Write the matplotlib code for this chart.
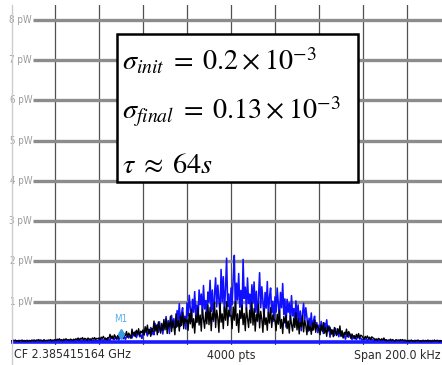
import numpy as np
import matplotlib
matplotlib.use("Agg")
import matplotlib.pyplot as plt
from matplotlib.patches import Rectangle
from matplotlib.lines import Line2D
from matplotlib import font_manager

# trace values in pW, one every 0.5 kHz from -100 kHz to +100 kHz (span 200 kHz)
black = [
    0.03, 0.02, 0.04, 0.03, 0.05, 0.02, 0.03, 0.01, 0.04, 0.03, 0.05, 0.02, 0.04, 0.01, 0.04, 0.03, 0.02, 0.04, 0.02, 0.05,
    0.03, 0.05, 0.02, 0.05, 0.04, 0.06, 0.03, 0.05, 0.04, 0.02, 0.06, 0.03, 0.04, 0.03, 0.05, 0.04, 0.06, 0.03, 0.05, 0.04,
    0.06, 0.04, 0.07, 0.05, 0.08, 0.04, 0.06, 0.03, 0.07, 0.05, 0.08, 0.05, 0.06, 0.04, 0.07, 0.06, 0.04, 0.07, 0.05, 0.08,
    0.06, 0.10, 0.05, 0.09, 0.07, 0.11, 0.05, 0.09, 0.08, 0.04, 0.10, 0.06, 0.08, 0.05, 0.10, 0.07, 0.11, 0.06, 0.09, 0.08,
    0.10, 0.06, 0.12, 0.09, 0.14, 0.07, 0.10, 0.05, 0.11, 0.09, 0.19, 0.10, 0.15, 0.07, 0.18, 0.13, 0.08, 0.16, 0.10, 0.20,
    0.13, 0.23, 0.10, 0.20, 0.16, 0.26, 0.12, 0.22, 0.17, 0.09, 0.32, 0.18, 0.24, 0.14, 0.29, 0.20, 0.33, 0.16, 0.27, 0.23,
    0.30, 0.17, 0.38, 0.25, 0.42, 0.20, 0.31, 0.14, 0.34, 0.26, 0.52, 0.27, 0.41, 0.18, 0.50, 0.35, 0.22, 0.46, 0.29, 0.56,
    0.30, 0.57, 0.21, 0.47, 0.38, 0.64, 0.26, 0.52, 0.40, 0.18, 0.70, 0.38, 0.53, 0.27, 0.64, 0.41, 0.73, 0.33, 0.59, 0.50,
    0.55, 0.29, 0.71, 0.45, 0.81, 0.35, 0.58, 0.22, 0.65, 0.48, 0.85, 0.42, 0.67, 0.27, 0.81, 0.56, 0.34, 0.74, 0.45, 0.92,
    0.43, 0.86, 0.28, 0.71, 0.55, 0.98, 0.36, 0.79, 0.59, 0.24, 0.96, 0.49, 0.70, 0.33, 0.87, 0.54, 1.00, 0.41, 0.79, 0.66,
    0.66, 0.33, 0.87, 0.54, 1.00, 0.41, 0.70, 0.24, 0.79, 0.58, 0.90, 0.43, 0.71, 0.28, 0.86, 0.59, 0.36, 0.79, 0.47, 0.98,
    0.42, 0.83, 0.27, 0.68, 0.53, 0.94, 0.35, 0.76, 0.57, 0.24, 0.81, 0.43, 0.60, 0.29, 0.74, 0.47, 0.85, 0.36, 0.67, 0.57,
    0.53, 0.28, 0.69, 0.44, 0.79, 0.34, 0.56, 0.21, 0.63, 0.47, 0.66, 0.33, 0.52, 0.22, 0.64, 0.44, 0.27, 0.58, 0.36, 0.72,
    0.30, 0.58, 0.20, 0.48, 0.38, 0.66, 0.25, 0.53, 0.41, 0.18, 0.52, 0.28, 0.39, 0.19, 0.47, 0.30, 0.54, 0.24, 0.43, 0.37,
    0.33, 0.18, 0.42, 0.27, 0.48, 0.22, 0.35, 0.14, 0.39, 0.29, 0.37, 0.19, 0.30, 0.13, 0.36, 0.25, 0.16, 0.33, 0.21, 0.40,
    0.15, 0.28, 0.10, 0.24, 0.19, 0.32, 0.13, 0.26, 0.20, 0.09, 0.20, 0.12, 0.16, 0.08, 0.19, 0.12, 0.21, 0.10, 0.17, 0.15,
    0.11, 0.07, 0.14, 0.09, 0.15, 0.08, 0.12, 0.06, 0.13, 0.10, 0.09, 0.05, 0.08, 0.04, 0.09, 0.07, 0.04, 0.08, 0.05, 0.10,
    0.04, 0.06, 0.03, 0.05, 0.04, 0.07, 0.03, 0.06, 0.04, 0.02, 0.06, 0.04, 0.05, 0.03, 0.06, 0.04, 0.06, 0.03, 0.05, 0.04,
    0.02, 0.04, 0.01, 0.03, 0.05, 0.02, 0.03, 0.01, 0.04, 0.03, 0.05, 0.02, 0.03, 0.01, 0.04, 0.03, 0.02, 0.04, 0.02, 0.05,
    0.02, 0.04, 0.01, 0.03, 0.02, 0.05, 0.02, 0.04, 0.03, 0.01, 0.04, 0.02, 0.03, 0.02, 0.04, 0.03, 0.05, 0.02, 0.04, 0.03,
    0.03,
]
blue = [
    0.03, 0.01, 0.04, 0.02, 0.01, 0.03, 0.02, 0.04, 0.01, 0.03, 0.00, 0.03, 0.02, 0.03, 0.01, 0.04, 0.02, 0.02, 0.01, 0.03,
    0.02, 0.04, 0.01, 0.03, 0.00, 0.02, 0.04, 0.01, 0.03, 0.02, 0.01, 0.03, 0.02, 0.04, 0.01, 0.03, 0.03, 0.01, 0.02, 0.00,
    0.03, 0.02, 0.04, 0.03, 0.02, 0.03, 0.02, 0.04, 0.02, 0.03, 0.01, 0.04, 0.03, 0.03, 0.02, 0.04, 0.02, 0.03, 0.01, 0.03,
    0.03, 0.06, 0.02, 0.05, 0.01, 0.04, 0.06, 0.03, 0.05, 0.04, 0.02, 0.05, 0.03, 0.06, 0.02, 0.04, 0.05, 0.03, 0.04, 0.02,
    0.06, 0.04, 0.07, 0.05, 0.03, 0.07, 0.05, 0.08, 0.04, 0.06, 0.04, 0.12, 0.08, 0.11, 0.06, 0.13, 0.07, 0.09, 0.05, 0.11,
    0.11, 0.17, 0.08, 0.14, 0.06, 0.13, 0.17, 0.10, 0.15, 0.12, 0.10, 0.21, 0.15, 0.26, 0.11, 0.19, 0.23, 0.13, 0.17, 0.09,
    0.28, 0.19, 0.33, 0.24, 0.15, 0.31, 0.22, 0.36, 0.18, 0.27, 0.18, 0.46, 0.33, 0.43, 0.24, 0.50, 0.29, 0.37, 0.20, 0.44,
    0.41, 0.63, 0.31, 0.53, 0.21, 0.48, 0.66, 0.36, 0.58, 0.43, 0.36, 0.78, 0.53, 0.95, 0.39, 0.71, 0.85, 0.46, 0.64, 0.32,
    0.97, 0.65, 1.16, 0.83, 0.51, 1.06, 0.74, 1.25, 0.60, 0.92, 0.51, 1.29, 0.93, 1.19, 0.66, 1.40, 0.82, 1.03, 0.56, 1.24,
    0.99, 1.53, 0.75, 1.29, 0.51, 1.17, 1.59, 0.87, 1.41, 1.05, 0.69, 1.80, 1.00, 1.62, 0.75, 1.31, 2.08, 0.88, 1.19, 0.63,
    1.34, 0.92, 1.58, 2.15, 0.74, 1.46, 1.04, 1.70, 0.86, 1.28, 0.62, 2.05, 1.08, 1.36, 0.79, 1.59, 0.96, 1.19, 0.67, 1.42,
    0.97, 1.49, 0.74, 1.26, 0.51, 1.14, 1.72, 0.85, 1.37, 1.03, 0.57, 1.23, 0.84, 1.50, 0.62, 1.12, 1.34, 0.73, 1.01, 0.51,
    1.12, 0.74, 1.34, 0.96, 0.57, 1.23, 0.85, 1.45, 0.68, 1.07, 0.37, 1.06, 0.74, 0.97, 0.51, 1.15, 0.65, 0.83, 0.42, 1.02,
    0.58, 0.92, 0.43, 0.77, 0.28, 0.70, 0.96, 0.51, 0.85, 0.62, 0.26, 0.59, 0.40, 0.72, 0.29, 0.53, 0.64, 0.34, 0.48, 0.23,
    0.42, 0.28, 0.51, 0.36, 0.21, 0.47, 0.32, 0.55, 0.26, 0.40, 0.12, 0.31, 0.22, 0.29, 0.16, 0.34, 0.19, 0.25, 0.13, 0.30,
    0.14, 0.22, 0.11, 0.19, 0.07, 0.17, 0.23, 0.12, 0.20, 0.15, 0.06, 0.12, 0.08, 0.14, 0.06, 0.11, 0.13, 0.07, 0.10, 0.05,
    0.07, 0.05, 0.08, 0.06, 0.04, 0.07, 0.05, 0.08, 0.05, 0.06, 0.02, 0.05, 0.04, 0.05, 0.03, 0.06, 0.04, 0.04, 0.03, 0.05,
    0.02, 0.04, 0.01, 0.03, 0.00, 0.02, 0.04, 0.01, 0.03, 0.02, 0.01, 0.03, 0.02, 0.04, 0.01, 0.03, 0.03, 0.01, 0.02, 0.00,
    0.03, 0.01, 0.04, 0.02, 0.01, 0.03, 0.02, 0.04, 0.01, 0.03, 0.00, 0.03, 0.02, 0.03, 0.01, 0.04, 0.02, 0.02, 0.01, 0.03,
    0.02, 0.03, 0.01, 0.04, 0.02, 0.01, 0.03, 0.02, 0.04, 0.01, 0.03, 0.02, 0.00, 0.03, 0.02, 0.04, 0.01, 0.03, 0.02, 0.03,
    0.02,
]
span_khz = 200.0
freq = np.linspace(-span_khz / 2, span_khz / 2, len(black))

ytick_vals = [1, 2, 3, 4, 5, 6, 7, 8]
ytick_labels = ["1 pW", "2 pW", "3 pW", "4 pW", "5 pW", "6 pW", "7 pW", "8 pW"]
marker_f, marker_v = -50.0, 0.20

footer_left = "CF 2.385415164 GHz"
footer_mid = "4000 pts"
footer_right = "Span 200.0 kHz"
box_lines = [r"$\sigma_{init}\;=\;0.2\times10^{-3}$",
             r"$\sigma_{final}\;=\;0.13\times10^{-3}$",
             r"$\tau\;\approx\;64s$"]

plt.rcParams["mathtext.fontset"] = "stix"

# look for a condensed sans font for the analyzer labels
cond = [f for f in font_manager.fontManager.ttflist
        if (f.stretch in ("condensed", "semi-condensed", "extra-condensed")
            or "Narrow" in f.name or "Condensed" in f.name)
        and f.style == "normal"]
cond.sort(key=lambda f: abs((f.weight if isinstance(f.weight, int) else 400) - 450))
def lab_font(size):
    if cond:
        return font_manager.FontProperties(fname=cond[0].fname, size=size)
    return font_manager.FontProperties(family=["Liberation Sans", "DejaVu Sans"], size=size)

W, H = 442, 365
fig = plt.figure(figsize=(W / 100, H / 100), dpi=100)
def fx(px):
    return px / W
def fy(py):
    return 1 - py / H

# plot area spans 11..451 px horizontally (right edge cut off), 5..345 px vertically
ax = fig.add_axes([fx(11), fy(345), 440 / W, 340 / H])
ax.set_xlim(-100, 100)
ax.set_ylim(-3 / 40.3, 337 / 40.3)
for s in ax.spines.values():
    s.set_visible(False)
ax.set_xticks([])
ax.set_yticks([])
fig.add_artist(Line2D([fx(12), fx(12)], [0, fy(5)], color="#cccccc", lw=1.0))

for v in np.arange(-80, 100, 20):
    ax.axvline(v, color="#505050", lw=0.9, zorder=1)
xstart = (33 - 11) / 2.2 - 100
ax.hlines(ytick_vals, xstart, 100, color="#8c8c8c", lw=2.4, zorder=1.5)
for v, lab in zip(ytick_vals, ytick_labels):
    ax.text(xstart - 0.4, v, lab, ha="right", va="center",
            fontproperties=lab_font(7), color="#9a9a9a")

ax.axhline(0.0, color="#1a1aff", lw=2.6, zorder=2.5)
ax.plot(freq, blue, color="#1010ff", lw=1.15, zorder=3)
ax.plot(freq, black, color="black", lw=1.0, zorder=4)

# marker M1
ax.plot([marker_f], [marker_v], marker="d", ms=5, color="#3a9de0", zorder=5)
ax.text(marker_f, marker_v + 0.37, "M1", ha="center", va="center",
        fontproperties=lab_font(7), color="#5ab0ea", zorder=5)

# footer
fig.text(fx(14), fy(355), footer_left, ha="left", va="center",
         fontproperties=lab_font(8.8), color="#2a2a2a")
fig.text(fx(231), fy(355), footer_mid, ha="center", va="center",
         fontproperties=lab_font(8.8), color="#2a2a2a")
fig.text(fx(441), fy(355), footer_right, ha="right", va="center",
         fontproperties=lab_font(8.8), color="#2a2a2a")

# annotation box
fig.add_artist(Rectangle((fx(117), fy(182)), (358 - 117) / W, (182 - 34) / H,
                         transform=fig.transFigure, facecolor="white",
                         edgecolor="black", lw=1.8, zorder=10))
for py, txt in zip([61, 112, 165], box_lines):
    fig.text(fx(122), fy(py), txt, ha="left", va="center", fontsize=20.3,
             color="black", zorder=11)

fig.savefig("out.png", dpi=100)
